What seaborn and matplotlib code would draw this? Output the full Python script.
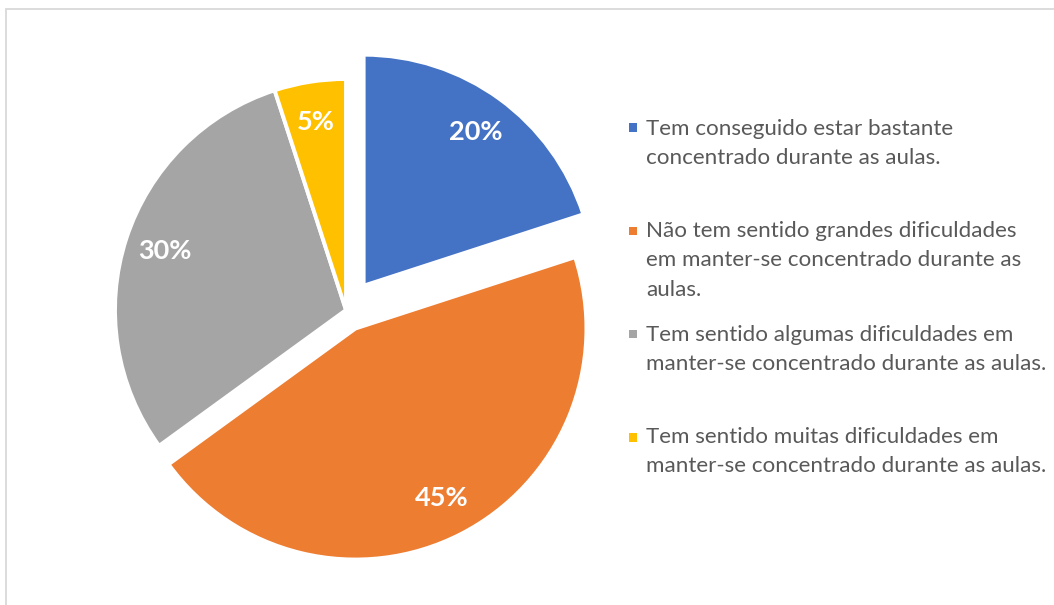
import matplotlib
matplotlib.use("Agg")
import matplotlib.pyplot as plt
from matplotlib.patches import Rectangle
import seaborn as sns

# ---- data ----
categories = [
    "Tem conseguido estar bastante concentrado durante as aulas.",
    "Não tem sentido grandes dificuldades em manter-se concentrado durante as aulas.",
    "Tem sentido algumas dificuldades em manter-se concentrado durante as aulas.",
    "Tem sentido muitas dificuldades em manter-se concentrado durante as aulas.",
]
legend_lines = [
    ["Tem conseguido estar bastante", "concentrado durante as aulas."],
    ["Não tem sentido grandes dificuldades", "em manter-se concentrado durante as", "aulas."],
    ["Tem sentido algumas dificuldades em", "manter-se concentrado durante as aulas."],
    ["Tem sentido muitas dificuldades em", "manter-se concentrado durante as aulas."],
]
values = [20, 45, 30, 5]
explode = [0.13, 0.09, 0.0, 0.0]
colors = ["#4472C4", "#ED7D31", "#A5A5A5", "#FFC000"]

sns.set_theme(style="white")
plt.rcParams["font.family"] = ["Lato", "DejaVu Sans"]

W, H, DPI = 1054, 605, 100
fig = plt.figure(figsize=(W / DPI, H / DPI), dpi=DPI)
fig.patch.set_facecolor("white")

# pie centre (pixels) and radius (pixels)
cx, cy, R = 346, 310, 231
ax = fig.add_axes([0, 0, 1, 1])
palette = sns.color_palette(colors)
wedges, texts, autotexts = ax.pie(
    values,
    explode=explode,
    colors=palette,
    startangle=90,
    counterclock=False,
    autopct="%1.0f%%",
    pctdistance=0.825,
    radius=1.0,
    wedgeprops=dict(edgecolor="white", linewidth=2.8),
    textprops=dict(color="white", fontsize=19.5, fontweight="bold"),
)
ax.set_xlim(-cx / R, (W - cx) / R)
ax.set_ylim(-(H - cy) / R, cy / R)
ax.set_aspect("equal")
ax.axis("off")

# legend (manual, marker aligned with the first line)
marker_y = [127.5, 231, 334, 437.5]
first_baseline = [135, 237, 341, 443]
line_step = 29.5
for col, my, by, lines in zip(colors, marker_y, first_baseline, legend_lines):
    fig.patches.append(Rectangle(((629) / W, 1 - (my + 4.2) / H), 8.4 / W, 8.4 / H,
                                 transform=fig.transFigure, facecolor=col,
                                 edgecolor="none", figure=fig))
    for i, ln in enumerate(lines):
        fig.text(646 / W, 1 - (by + i * line_step) / H, ln, fontsize=16.1,
                 color="#595959", ha="left", va="baseline")

# chart border (light grey, top and left visible)
fig.patches.append(Rectangle((6 / W, -0.05), 1.2, 1 - 9 / H + 0.05,
                             transform=fig.transFigure, facecolor="none",
                             edgecolor="#D9D9D9", linewidth=1.3, figure=fig))

fig.savefig("out.png", dpi=DPI, facecolor="white")
